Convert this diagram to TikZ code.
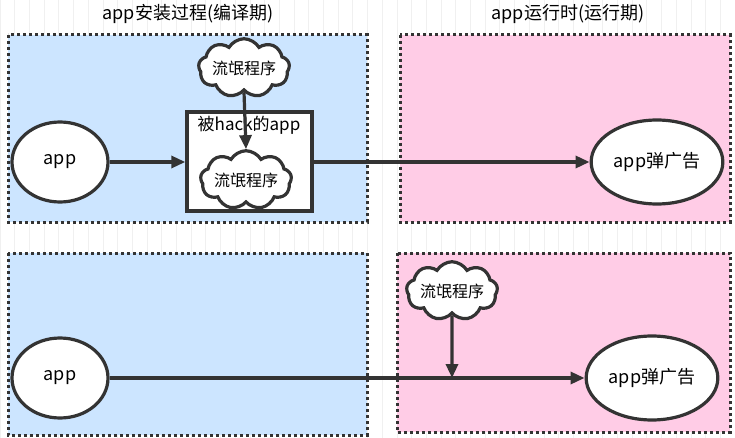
\documentclass[tikz,border=0pt]{standalone}
\usepackage{fontspec}
\setmainfont{Noto Sans CJK SC}
\usetikzlibrary{shapes.symbols,shapes.geometric,arrows.meta}
\definecolor{blu}{HTML}{CCE5FF}
\definecolor{pnk}{HTML}{FFCCE6}
\definecolor{ln}{HTML}{333333}
\tikzset{
 zone/.style={draw=ln,line width=3pt,dash pattern=on 3pt off 3pt},
 ell/.style={ellipse,draw=ln,line width=3.2pt,fill=white,font=\fontsize{18}{20}\selectfont},
 cld/.style={cloud,cloud puffs=9,cloud puff arc=120,aspect=2.0,draw=ln,line width=3.2pt,fill=white,font=\fontsize{16}{18}\selectfont,inner sep=-1pt},
 arr/.style={draw=ln,line width=3.2pt,-{Triangle[length=14pt,width=12pt]}},
 ttl/.style={font=\fontsize{18}{20}\selectfont,text=black}
}
\begin{document}
\begin{tikzpicture}[x=1pt,y=-1pt]
\useasboundingbox (0,0) rectangle (735,438);
\fill[white] (0,0) rectangle (735,438);
\draw[black!6,line width=0.7pt,step=14.7] (0,0) grid (735,438);
\fill[blu] (8,35) rectangle (367,222);
\draw[zone] (8,35) rectangle (367,222);
\fill[pnk] (400,35) rectangle (730,222);
\draw[zone] (400,35) rectangle (730,222);
\fill[blu] (8,253) rectangle (367,435);
\draw[zone] (8,253) rectangle (367,435);
\fill[pnk] (397,253) rectangle (730,432);
\draw[zone] (397,253) rectangle (730,432);
\node[ttl] (t1) at (188,14) {app安装过程(编译期)};
\node[ttl] (t2) at (568,14) {app运行时(运行期)};
\node[ell,minimum width=96pt,minimum height=80pt] (a1) at (60,162) {app};
\node[ell,minimum width=124pt,minimum height=84pt] (b1) at (657,162) {app弹广告};
\node[draw=ln,line width=3.4pt,fill=white,minimum width=125pt,minimum height=99pt] (h) at (249.5,161.5) {};
\node[font=\fontsize{17}{19}\selectfont,text=black] (hl) at (249,125) {被hack的app};
\node[cld] (c1) at (244,68) {流氓程序};
\node[cld] (c2) at (246,180) {流氓程序};
\draw[arr] (c1.south) -- (c2.north);
\draw[arr] (a1.east) -- (h.west|-a1.east);
\draw[arr] (h.east|-b1.west) -- (b1.west);
\node[ell,minimum width=96pt,minimum height=80pt] (a2) at (60,378) {app};
\node[ell,minimum width=128pt,minimum height=84pt] (b2) at (652,378) {app弹广告};
\node[cld] (c3) at (452,291) {流氓程序};
\draw[arr] (a2.east) -- (b2.west);
\coordinate (m) at (452,378);
\draw[arr] (c3.south) -- (m);
\end{tikzpicture}
\end{document}
